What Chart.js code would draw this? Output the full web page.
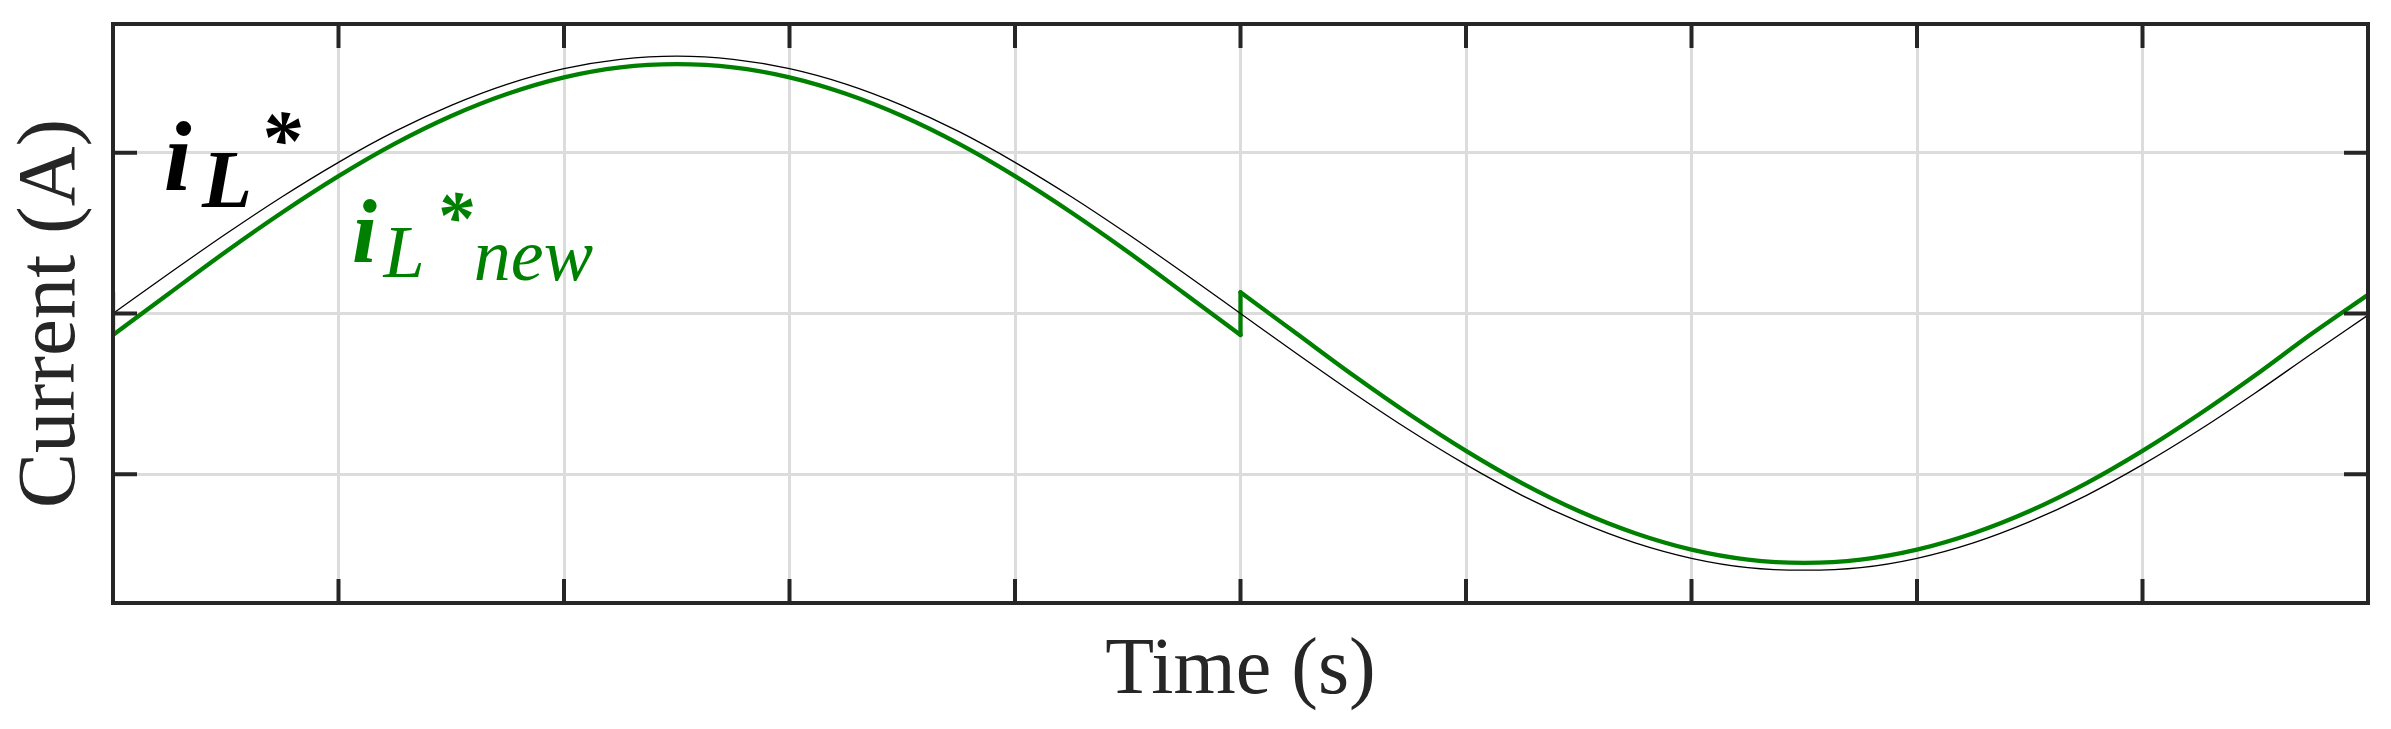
<!DOCTYPE html>
<html>
<head>
<meta charset="utf-8">
<script src="https://cdn.jsdelivr.net/npm/chart.js@4/dist/chart.umd.min.js"></script>
<style>
  html, body { margin: 0; padding: 0; background: #fff; overflow: hidden; }
  canvas { display: block; }
</style>
</head>
<body>
<canvas id="chart" width="2391" height="729"></canvas>
<script>
"use strict";

// reference current i_L* (one 50 Hz period)
const refTime = [0, 0.0005, 0.001, 0.0015, 0.002, 0.0025, 0.003, 0.0035, 0.004, 0.0045,
  0.005, 0.0055, 0.006, 0.0065, 0.007, 0.0075, 0.008, 0.0085, 0.009, 0.0095,
  0.01, 0.0105, 0.011, 0.0115, 0.012, 0.0125, 0.013, 0.0135, 0.014, 0.0145,
  0.015, 0.0155, 0.016, 0.0165, 0.017, 0.0175, 0.018, 0.0185, 0.019, 0.0195, 0.02];
const refCurrent = [0, 1.25, 2.47, 3.63, 4.70, 5.66, 6.47, 7.13, 7.61, 7.90,
  8.00, 7.90, 7.61, 7.13, 6.47, 5.66, 4.70, 3.63, 2.47, 1.25,
  0, -1.25, -2.47, -3.63, -4.70, -5.66, -6.47, -7.13, -7.61, -7.90,
  -7.98, -7.90, -7.61, -7.13, -6.47, -5.66, -4.70, -3.63, -2.47, -1.25, -0.05];

// new reference i_L*new, with the steps at the zero crossings
const newTime = [0, 0, 0.0005, 0.001, 0.0015, 0.002, 0.0025, 0.003, 0.0035, 0.004, 0.0045,
  0.005, 0.0055, 0.006, 0.0065, 0.007, 0.0075, 0.008, 0.0085, 0.009, 0.0095,
  0.01, 0.01, 0.0105, 0.011, 0.0115, 0.012, 0.0125, 0.013, 0.0135, 0.014, 0.0145,
  0.015, 0.0155, 0.016, 0.0165, 0.017, 0.0175, 0.018, 0.0185, 0.019, 0.0195, 0.02];
const newCurrent = [0.65, -0.67, 0.63, 1.92, 3.14, 4.27, 5.28, 6.14, 6.83, 7.34, 7.65,
  7.75, 7.65, 7.34, 6.83, 6.14, 5.28, 4.27, 3.14, 1.92, 0.63,
  -0.67, 0.66, -0.63, -1.92, -3.14, -4.27, -5.28, -6.14, -6.83, -7.34, -7.65,
  -7.75, -7.65, -7.34, -6.83, -6.14, -5.28, -4.27, -3.14, -1.92, -0.63, 0.58];

const xTicks = [0, 0.002, 0.004, 0.006, 0.008, 0.01, 0.012, 0.014, 0.016, 0.018, 0.02];
const yTicks = [-5, 0, 5];

// in-plot labels, anchored in data units
const labelParts = [
  { text: "i", t: 0.00045, v: 3.84, size: 100, weight: "bold", color: "#000000" },
  { text: "L", t: 0.00079, v: 3.31, size: 82, weight: "bold", color: "#000000" },
  { text: "*", t: 0.00130, v: 4.55, size: 82, weight: "bold", color: "#000000" },
  { text: "i", t: 0.00212, v: 1.60, size: 90, weight: "bold", color: "#008000" },
  { text: "L", t: 0.00240, v: 1.13, size: 74, weight: "normal", color: "#008000" },
  { text: "*", t: 0.00286, v: 2.22, size: 74, weight: "bold", color: "#008000" },
  { text: "new", t: 0.00320, v: 1.04, size: 74, weight: "normal", color: "#008000" }
];

const TICK_LEN = 24;
const AXIS_COLOR = "#262626";
const GREEN = "#008000";

const toPoints = (xs, ys) => xs.map((x, i) => ({ x: x, y: ys[i] }));

// cut a trace at its vertical steps: smooth runs and the step segments
function splitSteps(xs, ys) {
  const runs = [], steps = [];
  let run = [{ x: xs[0], y: ys[0] }];
  for (let i = 1; i < xs.length; i++) {
    const p = { x: xs[i], y: ys[i] };
    if (xs[i] === xs[i - 1]) {
      steps.push([run[run.length - 1], p]);
      if (run.length > 1) runs.push(run);
      run = [p];
    } else {
      run.push(p);
    }
  }
  if (run.length > 1) runs.push(run);
  return { runs, steps };
}

const newParts = splitSteps(newTime, newCurrent);

const greenStyle = {
  borderColor: GREEN,
  borderWidth: 4.3,
  pointRadius: 0,
  borderCapStyle: "round",
  borderJoinStyle: "round",
  order: 1
};

const datasets = [{
  label: "i_L*",
  data: toPoints(refTime, refCurrent),
  borderColor: "#000000",
  borderWidth: 1.3,
  pointRadius: 0,
  cubicInterpolationMode: "monotone",
  order: 0
}];
newParts.runs.forEach(r => datasets.push(Object.assign({ label: "i_L*new", data: r, cubicInterpolationMode: "monotone" }, greenStyle)));
newParts.steps.forEach(s => datasets.push(Object.assign({ label: "i_L*new", data: s, tension: 0 }, greenStyle)));

// matlab-like box with inward ticks on all four sides
const frame = {
  id: "frame",
  afterDatasetsDraw(chart) {
    const { ctx, scales: { x, y } } = chart;
    ctx.save();
    ctx.textBaseline = "alphabetic";
    labelParts.forEach(p => {
      ctx.font = "italic " + p.weight + " " + p.size + "px 'Liberation Serif'";
      ctx.fillStyle = p.color;
      ctx.fillText(p.text, x.getPixelForValue(p.t), y.getPixelForValue(p.v));
    });
    ctx.restore();
  },
  afterDraw(chart) {
    const { ctx, chartArea: a, scales: { x, y } } = chart;
    ctx.save();
    ctx.strokeStyle = AXIS_COLOR;
    ctx.lineWidth = 4;
    ctx.beginPath();
    xTicks.forEach(v => {
      const px = x.getPixelForValue(v);
      ctx.moveTo(px, a.bottom);
      ctx.lineTo(px, a.bottom - TICK_LEN);
      ctx.moveTo(px, a.top);
      ctx.lineTo(px, a.top + TICK_LEN);
    });
    yTicks.forEach(v => {
      const py = y.getPixelForValue(v);
      ctx.moveTo(a.left, py);
      ctx.lineTo(a.left + TICK_LEN, py);
      ctx.moveTo(a.right, py);
      ctx.lineTo(a.right - TICK_LEN, py);
    });
    ctx.stroke();
    ctx.strokeRect(a.left, a.top, a.right - a.left, a.bottom - a.top);
    ctx.restore();
  }
};

new Chart(document.getElementById("chart"), {
  type: "line",
  data: { datasets: datasets },
  options: {
    responsive: false,
    animation: false,
    devicePixelRatio: 1,
    layout: { padding: { top: 24, right: 23, left: 0, bottom: 0 } },
    plugins: { legend: { display: false }, tooltip: { enabled: false } },
    scales: {
      x: {
        type: "linear",
        min: 0,
        max: 0.02,
        afterBuildTicks: s => { s.ticks = xTicks.map(v => ({ value: v })); },
        afterFit: s => { s.height = 126; },
        ticks: { display: false },
        grid: { color: "#dcdcdc", lineWidth: 3, drawTicks: false },
        border: { display: false },
        title: {
          display: true,
          text: "Time (s)",
          color: AXIS_COLOR,
          font: { family: "'Liberation Serif'", size: 80 },
          padding: { top: 0, bottom: 9 }
        }
      },
      y: {
        type: "linear",
        min: -9,
        max: 9,
        afterBuildTicks: s => { s.ticks = yTicks.map(v => ({ value: v })); },
        afterFit: s => { s.width = 113; },
        ticks: { display: false },
        grid: { color: "#dcdcdc", lineWidth: 3, drawTicks: false },
        border: { display: false },
        title: {
          display: true,
          text: "Current (A)",
          color: AXIS_COLOR,
          font: { family: "'Liberation Serif'", size: 83 },
          padding: { top: 2, bottom: 0 }
        }
      }
    }
  },
  plugins: [frame]
});
</script>
</body>
</html>
